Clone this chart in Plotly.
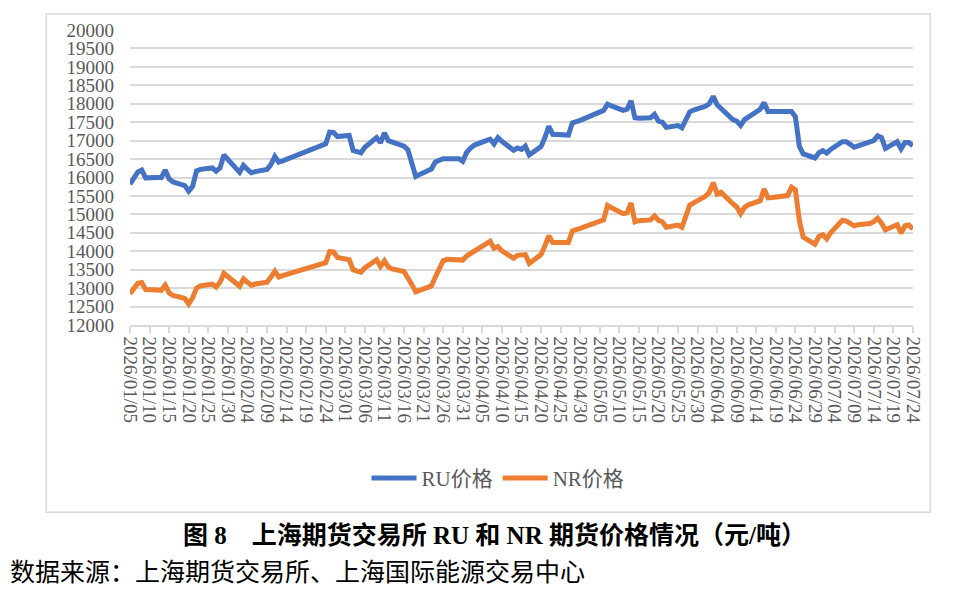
import plotly.graph_objects as go

# trading days shown on the chart (vertices)
dates = [
    '2026-01-05', '2026-01-07', '2026-01-08', '2026-01-09', '2026-01-12', '2026-01-13', '2026-01-14',
    '2026-01-15', '2026-01-16', '2026-01-19', '2026-01-20', '2026-01-21', '2026-01-22', '2026-01-23',
    '2026-01-26', '2026-01-27', '2026-01-28', '2026-01-29', '2026-02-02', '2026-02-03', '2026-02-04',
    '2026-02-05', '2026-02-06', '2026-02-09', '2026-02-10', '2026-02-11', '2026-02-12', '2026-02-13',
    '2026-02-24', '2026-02-25', '2026-02-26', '2026-02-27', '2026-03-02', '2026-03-03', '2026-03-04',
    '2026-03-05', '2026-03-06', '2026-03-09', '2026-03-10', '2026-03-11', '2026-03-12', '2026-03-13',
    '2026-03-16', '2026-03-17', '2026-03-18', '2026-03-19', '2026-03-20', '2026-03-23', '2026-03-24',
    '2026-03-25', '2026-03-26', '2026-03-27', '2026-03-30', '2026-03-31', '2026-04-01', '2026-04-02',
    '2026-04-03', '2026-04-07', '2026-04-08', '2026-04-09', '2026-04-10', '2026-04-13', '2026-04-14',
    '2026-04-15', '2026-04-16', '2026-04-17', '2026-04-20', '2026-04-21', '2026-04-22', '2026-04-23',
    '2026-04-24', '2026-04-27', '2026-04-28', '2026-04-29', '2026-04-30', '2026-05-06', '2026-05-07',
    '2026-05-08', '2026-05-11', '2026-05-12', '2026-05-13', '2026-05-14', '2026-05-15', '2026-05-18',
    '2026-05-19', '2026-05-20', '2026-05-21', '2026-05-22', '2026-05-25', '2026-05-26', '2026-05-27',
    '2026-05-28', '2026-05-29', '2026-06-01', '2026-06-02', '2026-06-03', '2026-06-04', '2026-06-05',
    '2026-06-08', '2026-06-09', '2026-06-10', '2026-06-11', '2026-06-12', '2026-06-15', '2026-06-16',
    '2026-06-17', '2026-06-18', '2026-06-22', '2026-06-23', '2026-06-24', '2026-06-25', '2026-06-26',
    '2026-06-29', '2026-06-30', '2026-07-01', '2026-07-02', '2026-07-03', '2026-07-06', '2026-07-07',
    '2026-07-08', '2026-07-09', '2026-07-10', '2026-07-13', '2026-07-14', '2026-07-15', '2026-07-16',
    '2026-07-17', '2026-07-20', '2026-07-21', '2026-07-22', '2026-07-23', '2026-07-24',
]

ru_price = [
    15820, 16150, 16200, 15990, 16000, 16000, 16200,
    15960, 15880, 15780, 15630, 15760, 16180, 16220,
    16260, 16170, 16260, 16610, 16140, 16330, 16220,
    16130, 16160, 16220, 16350, 16570, 16420, 16450,
    16910, 17230, 17220, 17110, 17140, 16730, 16700,
    16670, 16820, 17080, 16940, 17210, 17000, 16960,
    16850, 16750, 16400, 16030, 16080, 16230, 16420,
    16480, 16510, 16510, 16510, 16440, 16680, 16800,
    16880, 17040, 16910, 17080, 16980, 16740, 16800,
    16760, 16850, 16610, 16840, 17080, 17390, 17170,
    17160, 17150, 17480, 17510, 17550, 17820, 17990,
    17940, 17820, 17850, 18080, 17620, 17610, 17620,
    17710, 17530, 17500, 17360, 17410, 17350, 17570,
    17780, 17830, 17930, 18000, 18200, 17970, 17880,
    17570, 17530, 17410, 17570, 17650, 17850, 18030,
    17790, 17790, 17790, 17790, 17650, 16850, 16640,
    16530, 16670, 16730, 16660, 16760, 16970, 16970,
    16900, 16820, 16860, 16950, 17000, 17130, 17080,
    16790, 16970, 16780, 16950, 16950, 16860,
]

nr_price = [
    12850, 13130, 13150, 12960, 12950, 12940, 13080,
    12870, 12800, 12720, 12570, 12740, 13000, 13060,
    13110, 13030, 13160, 13400, 13050, 13250, 13160,
    13080, 13110, 13160, 13300, 13460, 13300, 13340,
    13690, 13990, 13980, 13830, 13770, 13500, 13460,
    13430, 13550, 13770, 13590, 13740, 13570, 13520,
    13450, 13300, 13100, 12900, 12940, 13060, 13300,
    13560, 13740, 13780, 13790, 13760, 13870, 13940,
    14020, 14270, 14080, 14130, 14010, 13810, 13890,
    13890, 13910, 13670, 13910, 14150, 14420, 14240,
    14240, 14240, 14550, 14580, 14620, 14850, 15240,
    15180, 15020, 15040, 15310, 14800, 14830, 14850,
    14960, 14840, 14800, 14650, 14710, 14650, 14980,
    15250, 15310, 15490, 15600, 15860, 15550, 15600,
    15290, 15200, 15020, 15190, 15260, 15370, 15690,
    15450, 15460, 15510, 15740, 15670, 14830, 14380,
    14190, 14400, 14450, 14340, 14500, 14840, 14820,
    14760, 14690, 14720, 14750, 14800, 14890, 14760,
    14580, 14720, 14490, 14690, 14710, 14600,
]

y_ticks = list(range(12000, 20001, 500))

grey = '#d9d9d9'
label_font = dict(family='Liberation Serif, Noto Sans CJK SC', size=19, color='#595959')
legend_font = dict(family='Liberation Serif, Noto Sans CJK SC', size=21, color='#595959')

fig = go.Figure()
fig.add_trace(go.Scatter(x=dates, y=ru_price, mode='lines', name='RU价格',
                         line=dict(color='#4472C4', width=5)))
fig.add_trace(go.Scatter(x=dates, y=nr_price, mode='lines', name='NR价格',
                         line=dict(color='#ED7D31', width=5)))

# page body keeps its default 8px margin, so the figure is 8px smaller than the window
fig.update_layout(
    width=957, height=583,
    margin=dict(l=122, r=52, t=17, b=266),
    paper_bgcolor='white', plot_bgcolor='white',
    font=label_font,
    showlegend=True,
    legend=dict(orientation='h', x=0.47, y=-0.52, xanchor='center', yanchor='middle',
                font=legend_font, itemwidth=45, bgcolor='rgba(0,0,0,0)'),
    xaxis=dict(
        type='date',
        range=['2026-01-05', '2026-07-24 01:00'],
        tick0='2026-01-05', dtick=5 * 86400000,
        tickformat='%Y/%m/%d', tickangle=90,
        showgrid=False, showline=True, linecolor=grey, linewidth=1.5,
        ticks='outside', ticklen=6, tickcolor=grey, tickwidth=1.5,
        tickfont=label_font, zeroline=False,
    ),
    yaxis=dict(
        range=[12000, 20000], tickvals=y_ticks, tickformat='d',
        showgrid=True, gridcolor=grey, gridwidth=1.5,
        showline=False, zeroline=False, ticks='',
        tickfont=label_font, ticklabelstandoff=15,
    ),
    shapes=[dict(type='rect', xref='paper', yref='paper',
                 x0=-0.107, x1=1.022, y0=-0.635, y1=1.054,
                 line=dict(color=grey, width=1.5), fillcolor='rgba(0,0,0,0)', layer='below')],
    annotations=[
        dict(text='<b>图 8    上海期货交易所 RU 和 NR 期货价格情况（元/吨）</b>',
             xref='paper', yref='paper', x=0.466, y=-0.715, xanchor='center', yanchor='middle',
             showarrow=False, font=dict(family='Liberation Serif, Noto Sans CJK SC', size=25, color='black')),
        dict(text='数据来源：上海期货交易所、上海国际能源交易中心',
             xref='paper', yref='paper', x=-0.1559, y=-0.831, xanchor='left', yanchor='middle',
             showarrow=False, font=dict(family='Noto Sans CJK SC', size=25, color='black')),
    ],
)

fig.write_html("out.html")
